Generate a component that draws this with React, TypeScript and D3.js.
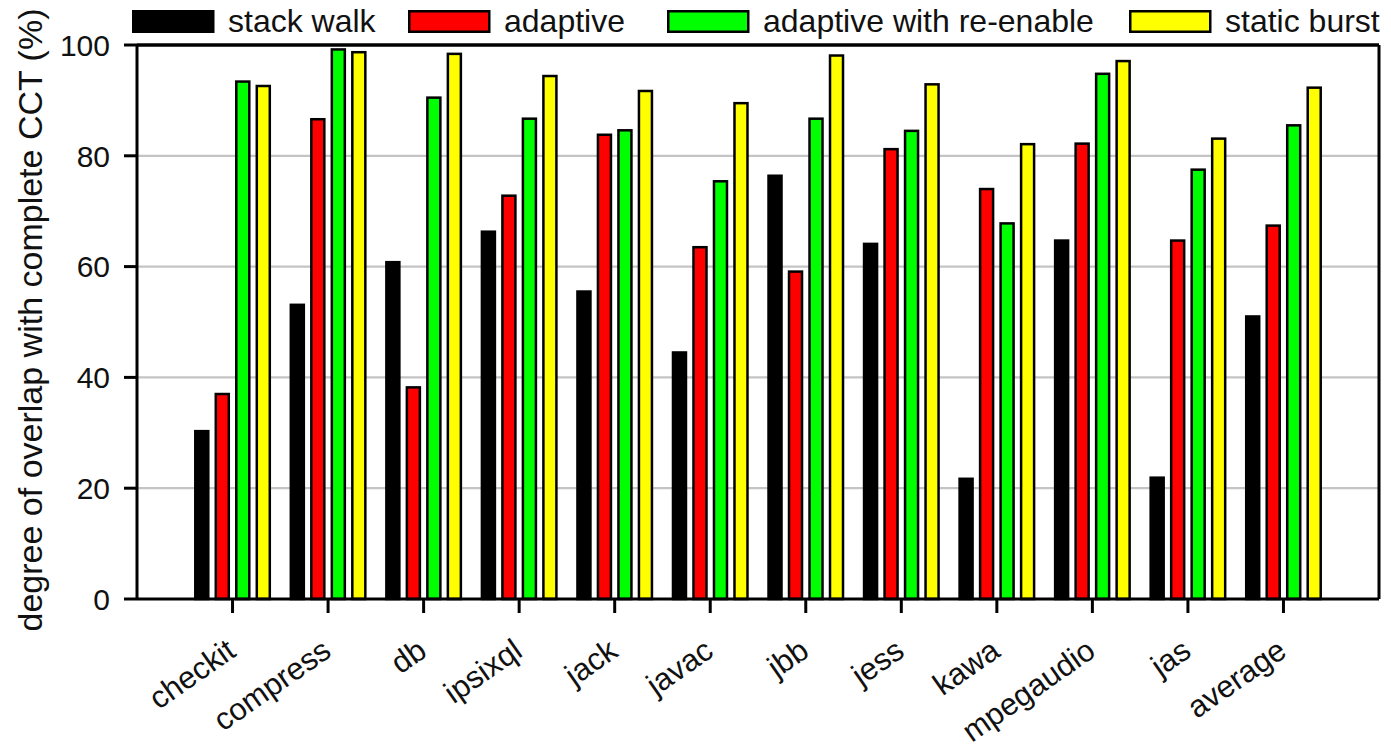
import React from "react";
import * as d3 from "d3";

// Benchmarks on the x axis
const categories = [
  "checkit", "compress", "db", "ipsixql", "jack", "javac",
  "jbb", "jess", "kawa", "mpegaudio", "jas", "average",
];

// Series names (legend order)
const seriesNames = ["stack walk", "adaptive", "adaptive with re-enable", "static burst"];
const seriesColors = ["#000000", "#ff0000", "#00ff00", "#ffff00"];

// Degree of overlap with complete CCT (%) per benchmark
const stackWalk = [30.3, 53.1, 60.8, 66.3, 55.5, 44.5, 76.4, 64.1, 21.7, 64.7, 21.9, 51.0];
const adaptive = [37.0, 86.6, 38.2, 72.8, 83.8, 63.5, 59.1, 81.2, 74.0, 82.2, 64.7, 67.4];
const adaptiveReenable = [93.4, 99.2, 90.5, 86.7, 84.6, 75.4, 86.7, 84.5, 67.8, 94.8, 77.5, 85.5];
const staticBurst = [92.6, 98.7, 98.4, 94.4, 91.7, 89.5, 98.1, 92.9, 82.1, 97.1, 83.1, 92.3];

const yTicks = [0, 20, 40, 60, 80, 100];

const seriesValues = [stackWalk, adaptive, adaptiveReenable, staticBurst];

const W = 1391;
const H = 751;
const left = 137;
const right = 1379;
const top = 45;
const bottom = 599;
const font = "Arial, 'Liberation Sans', Helvetica, sans-serif";

export default function App() {
  const x0 = d3.scalePoint<string>().domain(categories).range([left, right]).padding(1);
  const x1 = d3.scaleBand<string>().domain(seriesNames).range([-41, 41]);
  const y = d3.scaleLinear().domain([0, 100]).range([bottom, top]);
  const barW = 13;

  const legendX = [132, 408, 667, 1129];

  return (
    <svg
      width={W}
      height={H}
      style={{ position: "absolute", left: 0, top: 0, background: "#fff" }}
      fontFamily={font}
    >
      <rect x={0} y={0} width={W} height={H} fill="#fff" />

      {/* horizontal grid lines */}
      {yTicks.filter((t) => t > 0 && t < 100).map((t) => (
        <line key={t} x1={left} x2={right} y1={y(t)} y2={y(t)} stroke="#c4c4c4" strokeWidth={2.2} />
      ))}

      {/* bars */}
      {categories.map((c, i) => (
        <g key={c} transform={`translate(${x0(c)},0)`}>
          {seriesNames.map((s, k) => {
            const v = seriesValues[k][i];
            const bx = (x1(s) as number) + (x1.bandwidth() - barW) / 2;
            return (
              <rect
                key={s}
                x={bx}
                y={y(v)}
                width={barW}
                height={y(0) - y(v)}
                fill={seriesColors[k]}
                stroke="#000"
                strokeWidth={2.5}
              />
            );
          })}
        </g>
      ))}

      {/* frame */}
      <line x1={left} x2={right} y1={top} y2={top} stroke="#000" strokeWidth={3.5} />
      <line x1={right} x2={right} y1={top} y2={bottom} stroke="#000" strokeWidth={3} />
      <line x1={left} x2={left} y1={top} y2={bottom} stroke="#000" strokeWidth={3} />
      <line x1={left} x2={right} y1={bottom} y2={bottom} stroke="#000" strokeWidth={3} />

      {/* y axis ticks and labels */}
      {yTicks.map((t) => (
        <g key={t}>
          <line x1={124} x2={left} y1={y(t)} y2={y(t)} stroke="#000" strokeWidth={3} />
          <text x={110} y={y(t)} dy="0.36em" textAnchor="end" fontSize={30} fill="#111">
            {t}
          </text>
        </g>
      ))}

      {/* x axis ticks and labels */}
      {categories.map((c) => {
        const cx = x0(c) as number;
        return (
          <g key={c}>
            <line x1={cx} x2={cx} y1={bottom} y2={613} stroke="#000" strokeWidth={3} />
            <text
              transform={`translate(${cx + 5},655) rotate(-35)`}
              textAnchor="end"
              fontSize={31}
              fill="#111"
            >
              {c}
            </text>
          </g>
        );
      })}

      {/* y axis title */}
      <text
        transform={`translate(42,320) rotate(-90)`}
        textAnchor="middle"
        fontSize={34}
        fill="#111"
      >
        degree of overlap with complete CCT (%)
      </text>

      {/* legend */}
      {seriesNames.map((s, k) => (
        <g key={s}>
          <rect
            x={legendX[k] + 1.25}
            y={11.25}
            width={80}
            height={20.5}
            fill={seriesColors[k]}
            stroke="#000"
            strokeWidth={2.5}
          />
          <text x={legendX[k] + 96} y={32} fontSize={32} fill="#111">
            {s}
          </text>
        </g>
      ))}
    </svg>
  );
}
